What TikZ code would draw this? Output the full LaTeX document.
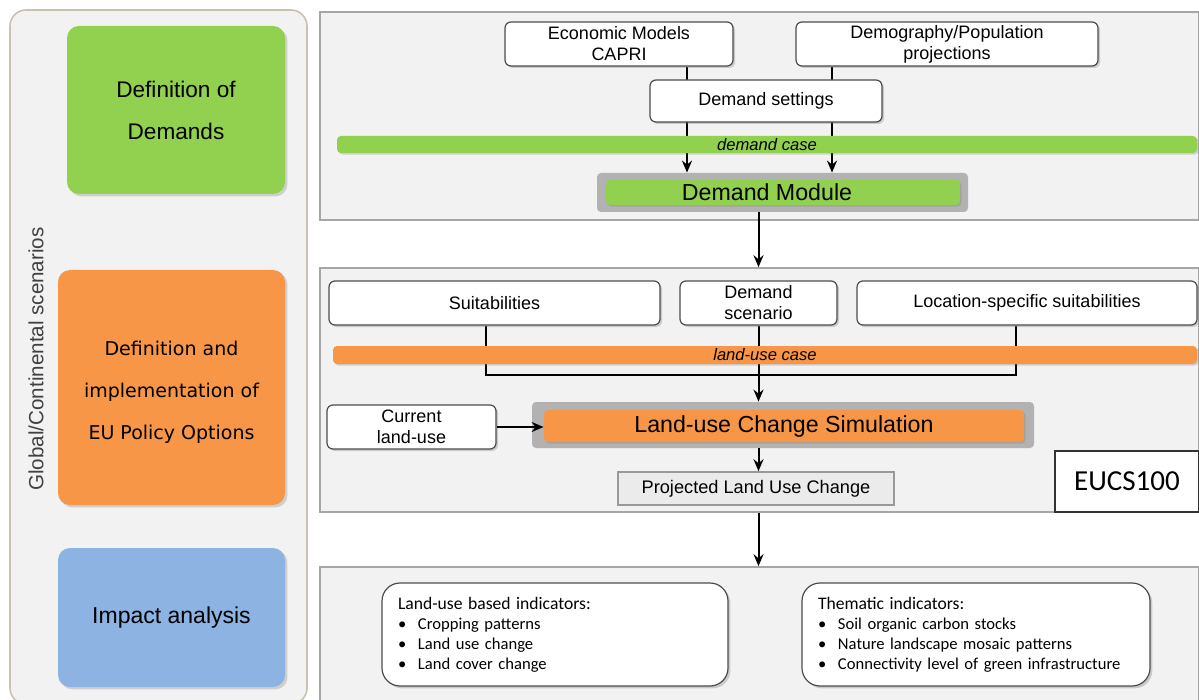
\documentclass[tikz,border=0pt]{standalone}
\usepackage{fontspec}
\setmainfont{Liberation Sans}
\newfontfamily\carl{Carlito}
\newfontfamily\dejav{DejaVu Sans}
\usetikzlibrary{shadows,arrows.meta,calc}
\pgfdeclarelayer{bg}
\pgfdeclarelayer{lines}
\pgfsetlayers{bg,lines,main}
\definecolor{pgreen}{HTML}{92D050}
\definecolor{porange}{HTML}{F79646}
\definecolor{pblue}{HTML}{8DB3E2}
\definecolor{panelfill}{HTML}{F2F2F2}
\definecolor{panelline}{HTML}{A6A6A6}
\definecolor{leftline}{HTML}{C9C2B0}
\tikzset{
  panel/.style={draw=panelline, line width=0.8pt, fill=panelfill, inner sep=0pt},
  wbox/.style={draw=black!70, line width=0.6pt, fill=white, rounded corners=3pt, inner sep=0pt, align=center,
     font=\fontsize{9}{10.5}\selectfont, drop shadow={shadow xshift=1pt, shadow yshift=-1pt, opacity=0.35}},
  cbar/.style={rounded corners=2pt, inner sep=0pt, font=\fontsize{8.3}{9}\selectfont\itshape,
     drop shadow={shadow xshift=0.8pt, shadow yshift=-0.8pt, opacity=0.3}},
  modouter/.style={fill=black!30, rounded corners=2pt, inner sep=0pt},
  modinner/.style={rounded corners=2pt, inner sep=0pt, font=\fontsize{11.6}{13}\selectfont,
     drop shadow={shadow xshift=0.8pt, shadow yshift=-0.8pt, opacity=0.3}},
  lbox/.style={rounded corners=6pt, inner sep=0pt, align=center,
     drop shadow={shadow xshift=1.2pt, shadow yshift=-1.2pt, opacity=0.3}},
  ibox/.style={draw=black!70, line width=0.6pt, fill=white, rounded corners=9pt, inner xsep=8pt, inner ysep=0pt,
     align=left, font=\carl\fontsize{8.3}{10}\selectfont,
     drop shadow={shadow xshift=1.2pt, shadow yshift=-1.2pt, opacity=0.35}},
  conn/.style={line width=1pt, black},
  arr/.style={line width=1pt, black, -{Stealth[length=6pt,width=5pt,inset=2pt]}},
}
\newcommand{\bul}[1]{\makebox[10pt][l]{\textbullet}#1}
\newcommand{\ihead}[1]{{\fontsize{8.8}{10}\selectfont #1}}
\begin{document}
\begin{tikzpicture}[x=0.5pt,y=-0.5pt]
\useasboundingbox (0,0) rectangle (1199,700);
% left panel
\node[draw=leftline, line width=0.8pt, fill=panelfill, rounded corners=8pt, minimum width=148.5pt, minimum height=347pt, inner sep=0pt] (lp) at (158.5,357) {};
\node[rotate=90, text=black!75, font=\fontsize{10.3}{12}\selectfont] (glob) at (36,359) {Global/Continental scenarios};
\node[lbox, fill=pgreen, minimum width=109pt, minimum height=84pt, font=\fontsize{11.3}{21}\selectfont] (ldem) at (176,110) {Definition of\\Demands};
\node[lbox, fill=porange, minimum width=113.5pt, minimum height=117.5pt, font=\dejav\fontsize{9.5}{21}\selectfont] (lpol) at (171.5,387.5) {\rule{0pt}{12pt}Definition and\\implementation of\\EU Policy Options};
\node[lbox, fill=pblue, minimum width=113.5pt, minimum height=69.5pt, font=\fontsize{11.5}{13}\selectfont] (limp) at (171.5,617.5) {Impact analysis};
% right panels
\begin{pgfonlayer}{bg}
\node[panel, minimum width=439.5pt, minimum height=104pt] (p1) at (759.5,116) {};
\node[panel, minimum width=439.5pt, minimum height=122pt] (p2) at (759.5,390) {};
\node[panel, minimum width=439.5pt, minimum height=68pt] (p3) at (759.5,635) {};
\end{pgfonlayer}
% panel 1
\node[wbox, minimum width=114pt, minimum height=22pt] (econ) at (619,44) {Economic Models\\CAPRI};
\node[wbox, minimum width=151pt, minimum height=22pt] (demo) at (947,44) {Demography/Population\\projections};
\node[wbox, minimum width=116pt, minimum height=21pt] (dset) at (766,101) {Demand settings};
\node[cbar, fill=pgreen, minimum width=430pt, minimum height=8.5pt] (dcase) at (767,144.5) {demand case};
\node[modouter, minimum width=185.5pt, minimum height=19.5pt] (dmodo) at (782.5,192.5) {};
\node[modinner, fill=pgreen, minimum width=177pt, minimum height=12.5pt] (dmod) at (783,192.5) {Demand Module\kern16pt};
\coordinate (eS) at ([xshift=34pt]econ.south);
\coordinate (dS) at ([xshift=-57.5pt]demo.south);
\begin{pgfonlayer}{lines}
\draw[arr] (eS) -- (eS |- dmodo.north);
\draw[arr] (dS) -- (dS |- dmodo.north);
\end{pgfonlayer}
% panel 2
\node[wbox, minimum width=165.5pt, minimum height=22pt] (suit) at (494.5,303) {Suitabilities};
\node[wbox, minimum width=78.5pt, minimum height=22pt] (dscen) at (758.5,303) {Demand\\scenario};
\node[wbox, minimum width=170pt, minimum height=22pt] (loc) at (1027,303) {Location-specific suitabilities};
\node[cbar, fill=porange, minimum width=432pt, minimum height=9pt] (lcase) at (765,355) {land-use case};
\node[modouter, minimum width=251pt, minimum height=23pt] (simo) at (783,425) {};
\node[modinner, fill=porange, minimum width=240pt, minimum height=16pt] (sim) at (784,426) {Land-use Change Simulation};
\node[wbox, minimum width=84.5pt, minimum height=22pt] (cur) at (411.5,427) {Current\\land-use};
\node[draw=black!40, line width=0.8pt, fill=black!8, minimum width=138pt, minimum height=16.5pt, inner sep=0pt, font=\fontsize{9.1}{10}\selectfont] (proj) at (756,488.5) {Projected Land Use Change};
\node[draw=black!80, line width=0.6pt, fill=white, minimum width=72pt, minimum height=30.5pt, inner sep=0pt, font=\carl\fontsize{14.5}{16}\selectfont] (eucs) at (1127,481.5) {EUCS100};
\coordinate (sS) at ([xshift=-4.25pt]suit.south);
\coordinate (lS) at ([xshift=-5.5pt]loc.south);
\coordinate (brL) at ([yshift=-24.5pt]sS);
\begin{pgfonlayer}{lines}
\draw[conn] (sS) -- (brL) -- (lS |- brL) -- (lS);
\draw[arr] (dscen.south) -- (dscen.south |- simo.north);
\end{pgfonlayer}
\draw[arr] (cur.east) -- (cur.east -| sim.west);
\draw[arr] (dscen.south |- simo.south) -- (dscen.south |- proj.north);
% panel connections
\draw[arr] (dscen.south |- dmodo.south) -- (dscen.south |- p2.north);
\draw[arr] (dscen.south |- p2.south) -- (dscen.south |- p3.north);
% panel 3
\node[ibox, minimum width=173pt, minimum height=51.5pt, text width=157pt] (lub) at (555,634.5)
 {\ihead{Land-use based indicators:}\\ \bul{Cropping patterns}\\ \bul{Land use change}\\ \bul{Land cover change}};
\node[ibox, minimum width=174pt, minimum height=51.5pt, text width=158pt] (them) at (976,634.5)
 {\ihead{Thematic indicators:}\\ \bul{Soil organic carbon stocks}\\ \bul{Nature landscape mosaic patterns}\\ \bul{Connectivity level of green infrastructure}};
\end{tikzpicture}
\end{document}
